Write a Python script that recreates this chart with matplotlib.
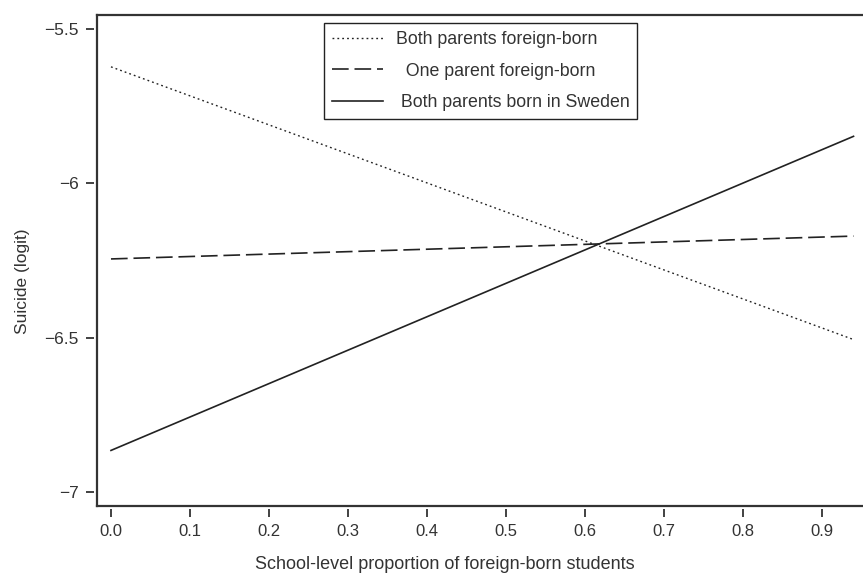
import numpy as np
import matplotlib
matplotlib.use("Agg")
import matplotlib.pyplot as plt

# fitted lines (endpoints only)
x_ends = [0.0, 0.94]
both_foreign = [-5.623, -6.506]
one_foreign = [-6.245, -6.171]
both_sweden = [-6.865, -5.848]

series_labels = ["Both parents foreign-born",
                 "  One parent foreign-born",
                 " Both parents born in Sweden"]

xticks = [0.0, 0.1, 0.2, 0.3, 0.4, 0.5, 0.6, 0.7, 0.8, 0.9]
yticks = [-5.5, -6.0, -6.5, -7.0]
ytick_labels = ["\u22125.5", "\u22126", "\u22126.5", "\u22127"]

plt.rcParams['font.family'] = ['Liberation Sans', 'DejaVu Sans']
axis_col = "#333333"

fig = plt.figure(figsize=(8.63, 5.73), dpi=100)
ax = fig.add_axes([0.1124, 0.1169, 0.8876, 0.857])

ax.plot(x_ends, both_foreign, color="#222222", lw=1.0, dashes=(1.3, 2.2), label=series_labels[0])
ax.plot(x_ends, one_foreign, color="#222222", lw=1.2, dashes=(10, 3.5), label=series_labels[1])
ax.plot(x_ends, both_sweden, color="#222222", lw=1.2, label=series_labels[2])

ax.set_xlim(-0.0177, 0.952)
ax.set_ylim(-7.045, -5.455)

# ticks sit slightly off the frame, so draw the frame by hand
for s in ["left", "bottom"]:
    ax.spines[s].set_position(("outward", 2))
    ax.spines[s].set_visible(False)
ax.spines["right"].set_visible(False)
ax.spines["top"].set_visible(False)
ax.plot([0, 0], [0, 1], transform=ax.transAxes, color=axis_col, lw=1.6, clip_on=False)
ax.plot([0, 1], [0, 0], transform=ax.transAxes, color=axis_col, lw=1.6, clip_on=False)
ax.plot([0, 1], [1, 1], transform=ax.transAxes, color=axis_col, lw=1.6, clip_on=False)

ax.set_xticks(xticks)
ax.set_xticklabels(["%.1f" % v for v in xticks], fontsize=12)
ax.set_yticks(yticks)
ax.set_yticklabels(ytick_labels, fontsize=12.5)
ax.tick_params(direction="out", length=6, width=1.3, color=axis_col,
               labelcolor=axis_col, pad=5)

ax.set_xlabel("School-level proportion of foreign-born students", fontsize=13,
              color=axis_col)
ax.xaxis.set_label_coords(0.454, -0.102)
ax.set_ylabel("Suicide (logit)", fontsize=12.5, color=axis_col)
ax.yaxis.set_label_coords(-0.088, 0.458)

leg = ax.legend(loc="upper left", bbox_to_anchor=(0.296, 0.983), fontsize=12.8,
                handlelength=2.9, handletextpad=0.7, labelspacing=0.8,
                fancybox=False, edgecolor="#222222", framealpha=1,
                borderpad=0.45, borderaxespad=0)
leg.get_frame().set_linewidth(1.0)
for t in leg.get_texts():
    t.set_color(axis_col)

fig.savefig("out.png", dpi=100)
